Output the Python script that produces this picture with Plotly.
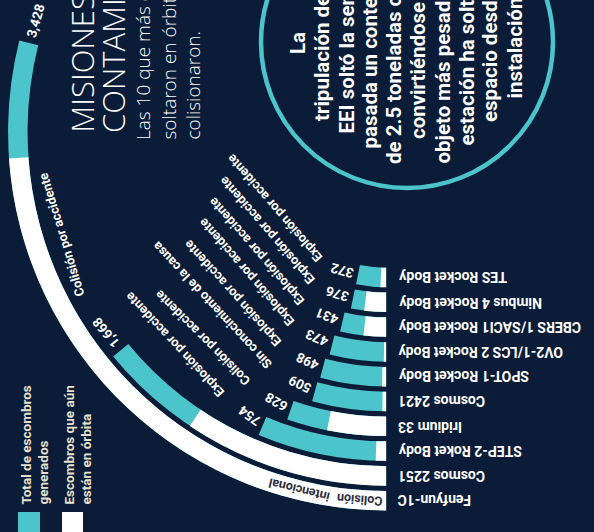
import math
import plotly.graph_objects as go

# ---------------- data ----------------
names = ["TES Rocket Body", "Nimbus 4 Rocket Body", "CBERS 1/SACI1 Rocket Body",
         "OV2-1/LCS 2 Rocket Body", "SPOT-1 Rocket Body", "Cosmos 2421", "Iridium 33",
         "STEP-2 Roket Body", "Cosmos 2251", "Fenfyun-1C"]
total_debris = [372, 376, 431, 473, 498, 509, 628, 754, 1668, 3428]
in_orbit = [74, 235, 213, 22, 33, 28, 372, 62, 1114, 2834]
causes = ["Explosión por accidente", "Explosión por accidente", "Explosión por accidente",
          "Explosión por accidente", "Explosión por accidente", "Sin conocimiento de la causa",
          "Colisión por accidente", "Explosión por accidente", "Colisión por accidente",
          "Colisión intencional"]

title_lines = ["MISIONES", "CONTAMINANTES"]
subtitle_lines = ["Las 10 que más escombros", "soltaron en órbita", "colisionaron."]
legend_labels = ["Total de escombros<br>generados", "Escombros que aún<br>están en órbita"]
note_lines = ["La", "tripulación de la", "EEI soltó la semana", "pasada un contenedor",
              "de 2.5 toneladas con baterías", "convirtiéndose en el",
              "objeto más pesado que la", "estación ha soltado al",
              "espacio desde su", "instalación"]

# ---------------- style / layout constants ----------------
W, H = 594, 532
BG = "#0b1c38"
CYAN = "#4bc4cc"
CREAM = "#e6e1cf"
FONT = "Roboto"
LIGHT = "Open Sans"

CX, CY = 386.5, 132.0          # centre of the rings (px)
SECTOR = (160, 270)
R_MAX = 384.0                  # radial range (px units)
RING0, RING_STEP, RING_W = 145.5, 24.8, 19.5
MAX_SPAN_DEG = 104.0           # angular span of the largest bar

n = len(names)
rings = [RING0 + RING_STEP * i for i in range(n)]
vmax = max(total_debris)
deg_total = [v / vmax * MAX_SPAN_DEG for v in total_debris]
deg_orbit = [v / vmax * MAX_SPAN_DEG for v in in_orbit]

# polar domain so that the centre sits at (CX, CY)
s0 = math.radians(SECTOR[0])
top_px = CY - R_MAX * math.sin(s0)
bot_px = CY + R_MAX
dom_x = [(CX - R_MAX) / W, CX / W]
dom_y = [1 - bot_px / H, 1 - top_px / H]


def P(th, r):
    """screen px of angle th (deg clockwise from south) and radius r"""
    t = math.radians(th)
    return CX - r * math.sin(t), CY + r * math.cos(t)


def ann(x, y, text, angle=0, size=12, color="white", family=FONT, weight=700,
        xanchor="center", yanchor="middle", align="left"):
    return dict(x=x / W, y=1 - y / H, xref="paper", yref="paper", text=text,
                textangle=angle, showarrow=False, xanchor=xanchor, yanchor=yanchor,
                align=align, borderpad=0,
                font=dict(family=family, size=size, color=color, weight=weight))


fig = go.Figure()
fig.add_trace(go.Barpolar(
    r=[RING_W] * n, base=[rc - RING_W / 2 for rc in rings],
    theta=[d / 2 for d in deg_total], width=deg_total,
    marker=dict(color=CYAN, line=dict(width=0)), hoverinfo="skip", name="total"))
fig.add_trace(go.Barpolar(
    r=[RING_W] * n, base=[rc - RING_W / 2 for rc in rings],
    theta=[d / 2 for d in deg_orbit], width=deg_orbit,
    marker=dict(color="white", line=dict(width=0)), hoverinfo="skip", name="orbit"))

annotations = []

# bar names (upside down, right of the bar starts)
for i in range(n):
    annotations.append(ann(CX + 10.5, CY + rings[i], names[i], angle=180, size=14,
                           xanchor="left", yanchor="middle"))

# value + cause labels
VAL_GAP, VAL_CH, CAUSE_CH = 6.0, 6.8, 6.6
val_tilt = [4, 6, 8, 9, 10, 10, 11, 13, 0, 2]
cause_angle = [-131, -131, -131, -131, -132, -133, -135, -133, -107, None]
cause_gap = [9, 12, 12, 13, 17, 17, 16, 18, 20, 0]
for i in range(n):
    th, r = deg_total[i], rings[i]
    px, py = P(th, r)
    h = math.radians(th - 180 + val_tilt[i])
    ux, uy = math.cos(h), math.sin(h)
    txt = f"{total_debris[i]:,}"
    wv = len(txt) * VAL_CH
    d = VAL_GAP + wv / 2
    annotations.append(ann(px + d * ux, py + d * uy, txt, angle=th - 180 + val_tilt[i], size=13.5))
    if cause_angle[i] is not None:
        sx = px + (VAL_GAP + wv + cause_gap[i]) * ux
        sy = py + (VAL_GAP + wv + cause_gap[i]) * uy
        a = math.radians(cause_angle[i])
        L = len(causes[i]) * CAUSE_CH
        annotations.append(ann(sx + L / 2 * math.cos(a), sy + L / 2 * math.sin(a), causes[i],
                               angle=cause_angle[i], size=12.8))

# cause written inside the largest bar, along its arc
r_last = rings[-1]
s = 2.0
for word in causes[-1].split(" "):
    wl = len(word) * 6.2
    th = math.degrees((s + wl / 2) / r_last)
    x, y = P(th, r_last)
    annotations.append(ann(x, y, word, angle=th - 180, size=12.5, color="#2b2d3c"))
    s += wl + 2

# title / subtitle (rotated)
for line, xc in zip(title_lines, [82, 113]):
    annotations.append(ann(xc, 134, line, angle=-90, size=31, family=LIGHT, weight=300,
                           xanchor="center", yanchor="bottom"))
for line, xc in zip(subtitle_lines, [143, 168, 192]):
    annotations.append(ann(xc, 141, line, angle=-90, size=19, family=LIGHT, weight=300,
                           xanchor="center", yanchor="bottom"))

# legend
for lbl, lx in zip(legend_labels, [16, 59]):
    annotations.append(ann(lx, 506, lbl, angle=-90, size=13.5, color=CREAM,
                           xanchor="left", yanchor="bottom"))

# note in the circle
NOTE_CX, NOTE_CY, NOTE_R = 407, 42, 146
note_bottom = [55, 122, 135, 150, 165, 140, 165, 147, 123, 100]
for k, line in enumerate(note_lines):
    annotations.append(ann(298 + 24 * k, note_bottom[k], line, angle=-90, size=20.5,
                           xanchor="center", yanchor="bottom"))

shapes = [
    dict(type="circle", xref="paper", yref="paper",
         x0=(NOTE_CX - NOTE_R) / W, x1=(NOTE_CX + NOTE_R) / W,
         y0=1 - (NOTE_CY + NOTE_R) / H, y1=1 - (NOTE_CY - NOTE_R) / H,
         line=dict(color=CYAN, width=4.5)),
    dict(type="rect", xref="paper", yref="paper", x0=18 / W, x1=40 / W, y0=-0.05, y1=1 - 512 / H,
         fillcolor=CYAN, line=dict(width=0)),
    dict(type="rect", xref="paper", yref="paper", x0=62 / W, x1=83 / W, y0=-0.05, y1=1 - 512 / H,
         fillcolor="white", line=dict(width=0)),
]

fig.update_layout(
    width=W, height=H, margin=dict(l=0, r=0, t=0, b=0),
    paper_bgcolor=BG, plot_bgcolor=BG, showlegend=False,
    polar=dict(domain=dict(x=dom_x, y=dom_y), sector=list(SECTOR), bgcolor="rgba(0,0,0,0)",
               radialaxis=dict(range=[0, R_MAX], visible=False, showgrid=False),
               angularaxis=dict(visible=False, rotation=270, direction="clockwise", showgrid=False)),
    annotations=annotations, shapes=shapes,
)
fig.write_html("out.html", config={"displayModeBar": False},
               post_script="document.body.style.margin='0';document.body.style.overflow='hidden';"
                           "document.body.style.background='" + BG + "';")
